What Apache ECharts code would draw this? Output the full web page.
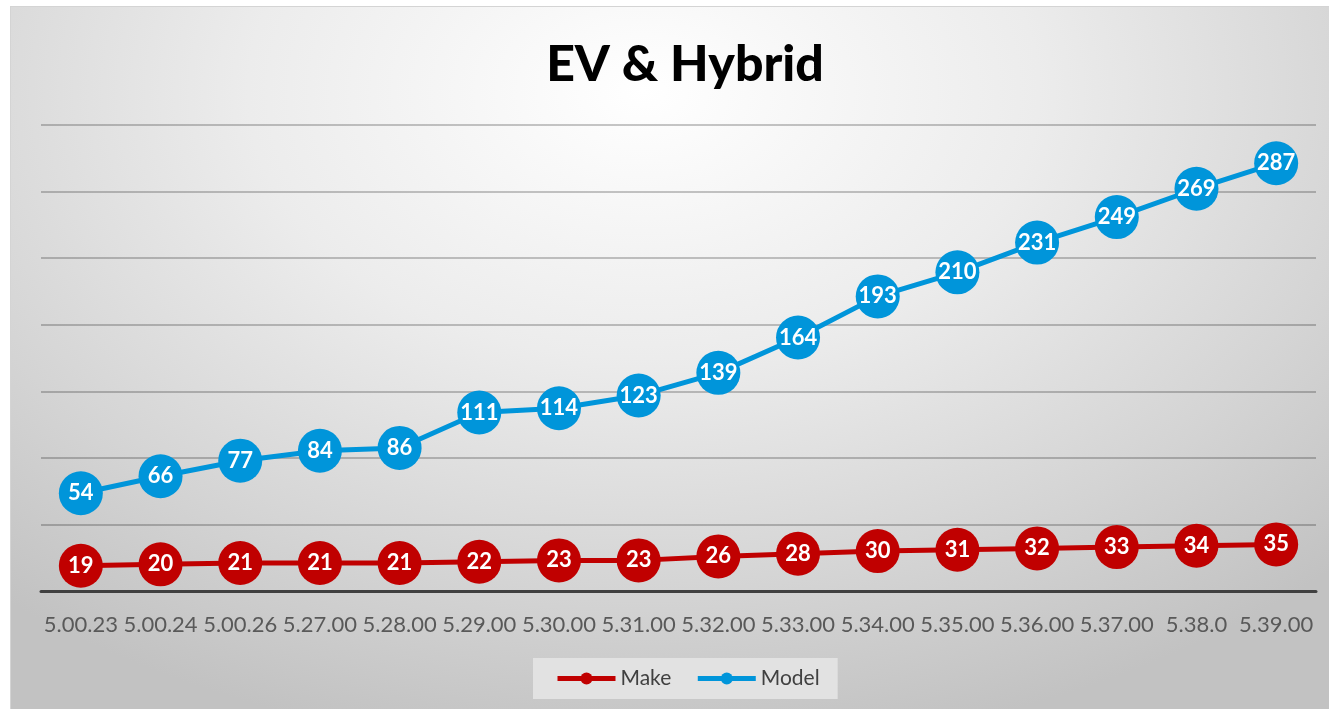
<!DOCTYPE html>
<html>
<head>
<meta charset="utf-8">
<script src="https://cdn.jsdelivr.net/npm/echarts@6/dist/echarts.min.js"></script>
<style>
  html, body { margin: 0; padding: 0; background: #fff; }
  #chart {
    position: absolute; left: 10px; top: 6px; width: 1319px; height: 703px;
    border-top: 1px solid #d4d4d4; border-left: 1px solid #d4d4d4; box-sizing: border-box;
    background: radial-gradient(ellipse 75% 95% at 48% 12%, #ffffff 0%, #ececec 40%, #d4d4d4 75%, #c2c2c2 100%);
  }
</style>
</head>
<body>
<div id="chart"></div>
<script>
const categories = ['5.00.23', '5.00.24', '5.00.26', '5.27.00', '5.28.00', '5.29.00', '5.30.00', '5.31.00',
  '5.32.00', '5.33.00', '5.34.00', '5.35.00', '5.36.00', '5.37.00', '5.38.0', '5.39.00'];
const makeValues = [19, 20, 21, 21, 21, 22, 23, 23, 26, 28, 30, 31, 32, 33, 34, 35];
const modelValues = [54, 66, 77, 84, 86, 111, 114, 123, 139, 164, 193, 210, 231, 249, 269, 287];

const chart = echarts.init(document.getElementById('chart'));

const labelStyle = {
  show: true,
  position: 'inside',
  color: '#fff',
  fontFamily: 'Lato',
  fontWeight: 'bold',
  fontSize: 22
};

chart.setOption({
  backgroundColor: 'transparent',
  title: {
    text: 'EV & Hybrid',
    left: 669,
    textAlign: 'center',
    top: 28,
    textStyle: { fontFamily: 'Lato', fontWeight: 900, fontSize: 50, color: '#000' }
  },
  legend: {
    bottom: 10,
    left: 522,
    backgroundColor: '#e2e2e2',
    padding: [10, 18, 10, 22],
    itemGap: 24,
    itemWidth: 58,
    itemHeight: 15,
    lineStyle: { width: 5 },
    textStyle: { fontFamily: 'Lato', fontSize: 21, color: '#404040' },
    data: ['Make', 'Model']
  },
  grid: { left: 30, right: 13, top: 118, bottom: 118 },
  xAxis: {
    type: 'category',
    data: categories,
    boundaryGap: true,
    axisLine: { lineStyle: { color: '#404040', width: 3 } },
    axisTick: { show: false },
    axisLabel: { interval: 0, margin: 23, fontFamily: 'Lato', fontSize: 22, color: '#595959' }
  },
  yAxis: [
    {
      type: 'value',
      min: 0,
      max: 350,
      interval: 50,
      axisLabel: { show: false },
      axisLine: { show: false },
      axisTick: { show: false },
      splitLine: { lineStyle: { color: 'rgba(0,0,0,0.22)', width: 2 } }
    },
    {
      type: 'value',
      min: -15,
      max: 314,
      show: false,
      splitLine: { show: false }
    }
  ],
  series: [
    {
      name: 'Make',
      type: 'line',
      yAxisIndex: 0,
      data: makeValues,
      symbol: 'circle',
      symbolSize: 44,
      lineStyle: { color: '#c00000', width: 5 },
      itemStyle: { color: '#c00000' },
      label: labelStyle,
      z: 3
    },
    {
      name: 'Model',
      type: 'line',
      yAxisIndex: 1,
      data: modelValues,
      symbol: 'circle',
      symbolSize: 44,
      lineStyle: { color: '#0095da', width: 5 },
      itemStyle: { color: '#0095da' },
      label: labelStyle,
      z: 4
    }
  ]
});
</script>
</body>
</html>
